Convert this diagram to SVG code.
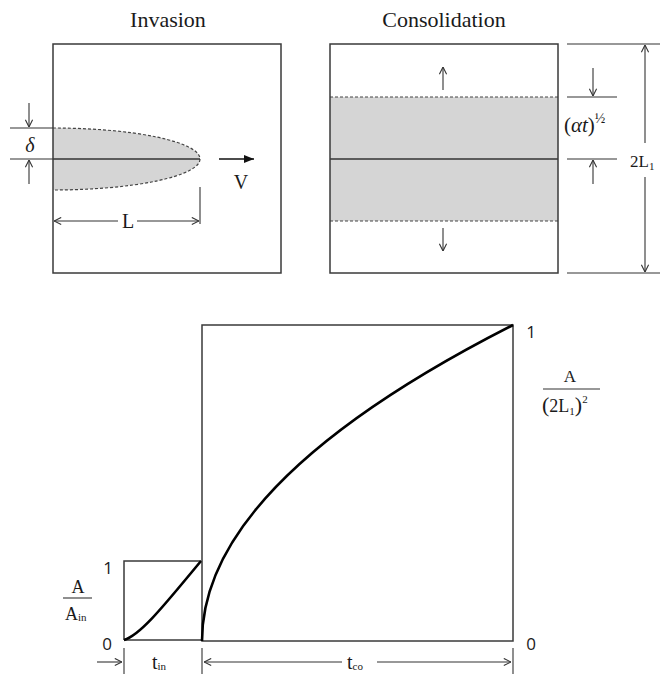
<svg xmlns="http://www.w3.org/2000/svg" width="660" height="674" viewBox="0 0 660 674">
<style>
.box{fill:none;stroke:#3a3a3a;stroke-width:1.5}
.thin{fill:none;stroke:#333;stroke-width:1.1}
.dash{fill:none;stroke:#444;stroke-width:1.2;stroke-dasharray:3,2}
.solid{fill:none;stroke:#333;stroke-width:1.6}
.shade{fill:#d5d5d5;stroke:none}
.curve{fill:none;stroke:#000;stroke-width:2.6}
.arr{fill:none;stroke:#333;stroke-width:1.1;marker-end:url(#oa)}
.serif{font-family:"Liberation Serif","Times New Roman",serif;fill:#1a1a1a}
.sans{font-family:"Open Sans","Noto Sans",sans-serif;fill:#1a1a1a;font-size:17px}
</style>
<defs>
<marker id="oa" viewBox="0 0 10 10" refX="9.5" refY="5" markerWidth="9" markerHeight="9" markerUnits="userSpaceOnUse" orient="auto"><path d="M1.5,1 L9.5,5 L1.5,9" fill="none" stroke="#333" stroke-width="1.2"/></marker>
<marker id="fa" viewBox="0 0 10 10" refX="10" refY="5" markerWidth="10" markerHeight="10" markerUnits="userSpaceOnUse" orient="auto"><path d="M0,1 L10,5 L0,9 Z" fill="#111"/></marker>
</defs>
<rect width="660" height="674" fill="#fff"/>

<g id="invasion">
<text class="serif" x="168" y="27" font-size="22" text-anchor="middle">Invasion</text>
<path class="shade" d="M53,128 A147,31 0 0 1 200,159 A147,31 0 0 1 53,190 Z"/>
<path class="dash" d="M53,128 A147,31 0 0 1 200,159 A147,31 0 0 1 53,190"/>
<line class="solid" x1="53" y1="159" x2="200" y2="159"/>
<rect class="box" x="53" y="44" width="228" height="229"/>
<line class="thin" x1="10" y1="128" x2="53" y2="128"/>
<line class="thin" x1="10" y1="159" x2="53" y2="159"/>
<line class="thin" x1="200" y1="187" x2="200" y2="224"/>
<text class="serif" x="30" y="152" font-size="20" font-style="italic" text-anchor="middle">δ</text>
<text class="serif" x="241" y="189" font-size="20" text-anchor="middle">V</text>
<text class="serif" x="128" y="228" font-size="20" text-anchor="middle">L</text>
</g>

<g id="consolidation">
<text class="serif" x="444" y="27" font-size="22" text-anchor="middle">Consolidation</text>
<rect class="shade" x="330" y="97" width="228" height="124"/>
<line class="dash" x1="330" y1="97" x2="558" y2="97"/>
<line class="dash" x1="330" y1="221" x2="558" y2="221"/>
<line class="solid" x1="330" y1="159" x2="558" y2="159"/>
<rect class="box" x="330" y="44" width="228" height="229"/>
<line class="thin" x1="567" y1="44" x2="660" y2="44"/>
<line class="thin" x1="567" y1="273" x2="660" y2="273"/>
<line class="thin" x1="567" y1="97" x2="617" y2="97"/>
<line class="thin" x1="567" y1="159" x2="617" y2="159"/>
<text class="serif" x="564" y="132" font-size="21">(<tspan font-style="italic">αt</tspan>)<tspan font-size="14" dy="-9">½</tspan></text>
<text class="serif" x="630" y="167" font-size="17">2L<tspan font-size="11" dy="3">1</tspan></text>
</g>

<g id="chart">
<path class="box" d="M124,640 V561 H201"/>
<line class="box" x1="124" y1="640" x2="202" y2="640"/>
<rect class="box" x="202" y="325" width="311" height="316"/>
<path class="curve" d="M124,640 C141,635 166,603 201,561"/>
<path class="curve" d="M202,641 Q202,483 513,325"/>
<text class="sans" x="108" y="574" text-anchor="middle">1</text>
<text class="sans" x="107" y="650" text-anchor="middle">0</text>
<text class="sans" x="531" y="338" text-anchor="middle">1</text>
<text class="sans" x="531" y="650" text-anchor="middle">0</text>
<text class="serif" x="78" y="593" font-size="18" text-anchor="middle">A</text>
<line class="thin" x1="63" y1="598" x2="92" y2="598"/>
<text class="serif" x="65" y="620" font-size="18">A<tspan font-size="11" dy="1">in</tspan></text>
<text class="serif" x="570" y="382" font-size="17" text-anchor="middle">A</text>
<line class="thin" x1="543" y1="389" x2="600" y2="389"/>
<text class="serif" x="542" y="412" font-size="18"><tspan font-size="22">(</tspan>2L<tspan font-size="11" dy="3">1</tspan><tspan font-size="22" dy="-3">)</tspan><tspan font-size="11" dy="-9">2</tspan></text>
<line class="thin" x1="124" y1="648" x2="124" y2="674"/>
<line class="thin" x1="202" y1="648" x2="202" y2="674"/>
<line class="thin" x1="513" y1="648" x2="513" y2="674"/>
<text class="serif" x="152" y="669" font-size="20">t<tspan font-size="11" dy="1">in</tspan></text>
<text class="serif" x="347" y="669" font-size="20">t<tspan font-size="11" dy="1">co</tspan></text>
</g>

<g id="connectors">
<line class="arr" x1="29" y1="103" x2="29" y2="127"/>
<line class="arr" x1="29" y1="184" x2="29" y2="160"/>
<line x1="219" y1="159" x2="254" y2="159" stroke="#111" stroke-width="1.3" marker-end="url(#fa)"/>
<line class="arr" x1="118" y1="221" x2="54" y2="221"/>
<line class="arr" x1="137" y1="221" x2="199" y2="221"/>
<line class="arr" x1="443" y1="90" x2="443" y2="67"/>
<line class="arr" x1="443" y1="228" x2="443" y2="251"/>
<line class="arr" x1="645" y1="143" x2="645" y2="45"/>
<line class="arr" x1="645" y1="177" x2="645" y2="272"/>
<line class="arr" x1="593" y1="68" x2="593" y2="96"/>
<line class="arr" x1="593" y1="184" x2="593" y2="160"/>
<line class="arr" x1="97" y1="662" x2="122" y2="662"/>
<line class="arr" x1="342" y1="662" x2="204" y2="662"/>
<line class="arr" x1="377" y1="662" x2="511" y2="662"/>
</g>
</svg>
